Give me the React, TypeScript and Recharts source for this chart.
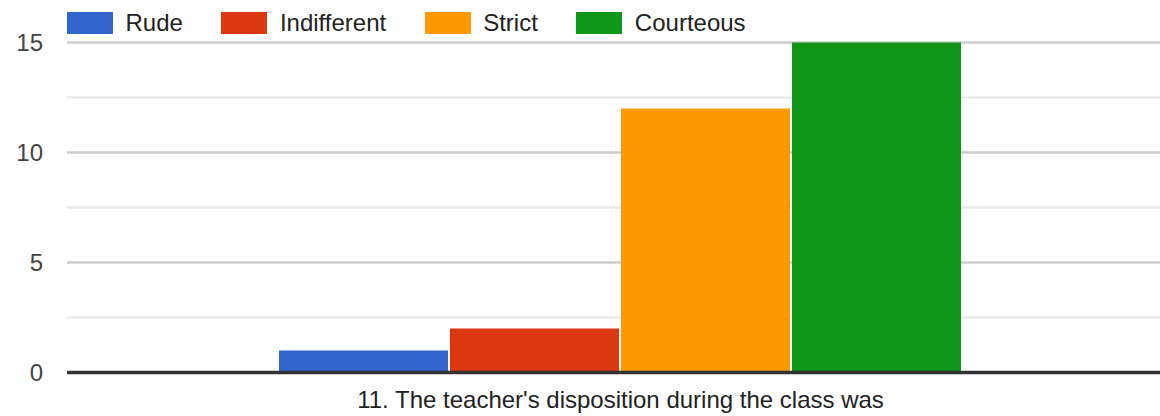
import React from "react";
import { BarChart, Bar, XAxis, YAxis, CartesianGrid } from "recharts";

const categories = ["11. The teacher's disposition during the class was"];
const seriesNames = ["Rude", "Indifferent", "Strict", "Courteous"];
const seriesValues = [[1], [2], [12], [15]];
const seriesColors = ["#3366cc", "#dc3912", "#ff9900", "#109618"];
const yTicks = [0, 5, 10, 15];
const minorTicks = [2.5, 7.5, 12.5];

const FONT = "Arial, 'Liberation Sans', sans-serif";

const data = categories.map((c, i) => {
  const row: Record<string, string | number> = { category: c };
  seriesNames.forEach((n, s) => {
    row[n] = seriesValues[s][i];
  });
  return row;
});

const XTick = (props: any) => {
  const { x, y, payload } = props;
  return (
    <text x={x} y={y + 35.5} textAnchor="middle" fill="#222" fontSize={24} fontFamily={FONT}>
      {payload.value}
    </text>
  );
};

const minorGenerator = (props: any) => {
  const scale = props?.yAxis?.scale;
  if (!scale) return [];
  const fn = typeof scale === "function" ? scale : scale.map ? (v: number) => scale.map(v) : null;
  if (!fn) return [];
  return minorTicks.map((t) => fn(t));
};

export default function App() {
  return (
    <div
      style={{
        position: "absolute",
        left: 0,
        top: 0,
        width: 1160,
        height: 416,
        overflow: "hidden",
        background: "#fff",
        fontFamily: FONT,
      }}
    >
      <BarChart
        width={1174}
        height={416}
        data={data}
        margin={{ top: 42.5, right: 0, bottom: 13.5, left: 0 }}
        barCategoryGap={212}
        barGap={2}
      >
        <CartesianGrid
          vertical={false}
          stroke="#ebebeb"
          strokeWidth={2.5}
          horizontalCoordinatesGenerator={minorGenerator}
        />
        <CartesianGrid vertical={false} stroke="#cccccc" strokeWidth={2.5} />
        <YAxis
          width={67}
          domain={[0, 15]}
          ticks={yTicks}
          axisLine={false}
          tickLine={false}
          tickSize={0}
          tickMargin={24}
          tick={{ fill: "#444", fontSize: 24, fontFamily: FONT }}
        />
        {seriesNames.map((n, i) => (
          <Bar key={n} dataKey={n} fill={seriesColors[i]} isAnimationActive={false} />
        ))}
        <XAxis
          dataKey="category"
          height={30}
          tickLine={false}
          tickSize={0}
          tickMargin={0}
          axisLine={{ stroke: "#333", strokeWidth: 3.3 }}
          tick={<XTick />}
        />
      </BarChart>
      <div
        style={{
          position: "absolute",
          left: 67,
          top: 12,
          display: "flex",
          alignItems: "center",
          height: 22,
        }}
      >
        {seriesNames.map((n, i) => (
          <div key={n} style={{ display: "flex", alignItems: "center", marginRight: 38.5 }}>
            <div style={{ width: 46, height: 22, background: seriesColors[i], marginRight: 12.5 }} />
            <span style={{ fontSize: 24, color: "#222", lineHeight: "22px", whiteSpace: "nowrap" }}>{n}</span>
          </div>
        ))}
      </div>
    </div>
  );
}
